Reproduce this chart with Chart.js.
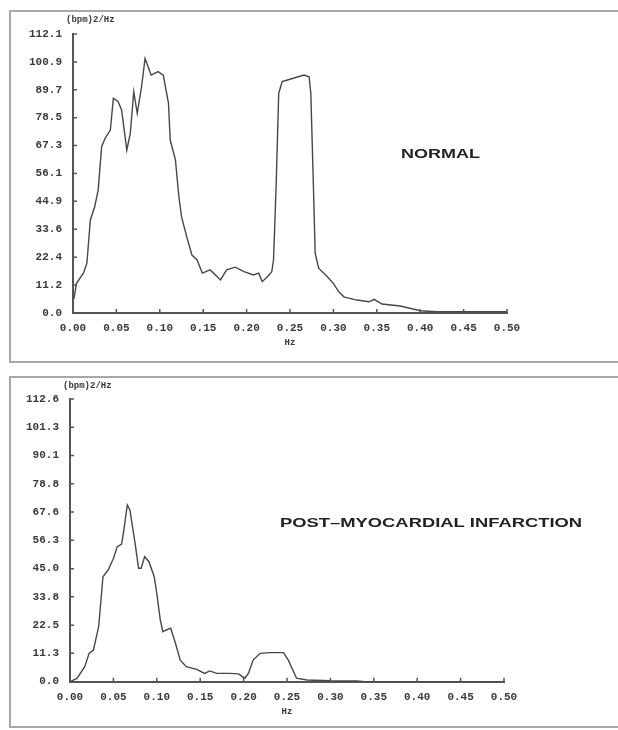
<!DOCTYPE html>
<html>
<head>
<meta charset="utf-8">
<script src="https://cdn.jsdelivr.net/npm/chart.js@4/dist/chart.umd.min.js"></script>
<style>
  html, body { margin: 0; padding: 0; background: #fff; }
  body { width: 618px; height: 730px; position: relative; overflow: hidden; }
  .frame { position: absolute; border: 2px solid #a8a8a8; box-sizing: border-box; }
  #f1 { left: 9px; top: 10px; width: 640px; height: 353px; }
  #f2 { left: 9px; top: 376px; width: 640px; height: 352px; }
  canvas { position: absolute; left: 0; }
  #c1wrap { position: absolute; left: 0; top: 0; width: 618px; height: 362px; }
  #c2wrap { position: absolute; left: 0; top: 370px; width: 618px; height: 360px; }
</style>
</head>
<body>
<div class="frame" id="f1"></div>
<div class="frame" id="f2"></div>
<div id="c1wrap"><canvas id="c1"></canvas></div>
<div id="c2wrap"><canvas id="c2"></canvas></div>
<script>
// ---- Data ----
const xTickLabels = ['0.00','0.05','0.10','0.15','0.20','0.25','0.30','0.35','0.40','0.45','0.50'];
const normalYTicks = ['0.0','11.2','22.4','33.6','44.9','56.1','67.3','78.5','89.7','100.9','112.1'];
const miYTicks = ['0.0','11.3','22.5','33.8','45.0','56.3','67.6','78.8','90.1','101.3','112.6'];

const normalFreq = [0.001,0.004,0.012,0.016,0.020,0.025,0.029,0.033,0.037,0.043,0.0465,0.052,0.056,0.062,0.066,0.070,0.074,0.079,0.083,0.090,0.098,0.104,0.110,0.112,0.118,0.122,0.125,0.131,0.137,0.143,0.149,0.158,0.170,0.177,0.187,0.197,0.208,0.214,0.218,0.224,0.229,0.231,0.234,0.237,0.241,0.250,0.266,0.272,0.274,0.277,0.279,0.283,0.293,0.300,0.306,0.312,0.327,0.341,0.347,0.356,0.377,0.393,0.400,0.420,0.450,0.500];
const normalPower = [5.6,11.9,16,20,37.4,42.7,49.4,66.8,70.2,73.5,86.3,84.9,81.6,65.5,72.2,88.9,80.2,90.9,102.3,95.6,97.0,95.6,84.3,69.5,61.5,46.7,38.7,30.7,23.3,21.3,16,17.3,13.3,17.3,18.4,16.6,15.3,16,12.6,14.6,16.6,21.3,50.7,88.3,93,93.9,95.6,94.9,88.3,50.7,24,18,14.6,11.9,8.6,6.5,5.2,4.5,5.5,3.6,2.8,1.5,0.9,0.5,0.5,0.5];

const miFreq = [0.000,0.008,0.017,0.022,0.027,0.033,0.038,0.044,0.050,0.0545,0.0595,0.062,0.066,0.069,0.075,0.079,0.082,0.086,0.091,0.097,0.100,0.104,0.107,0.111,0.116,0.121,0.127,0.134,0.146,0.155,0.161,0.169,0.184,0.194,0.2015,0.2055,0.211,0.219,0.230,0.246,0.2515,0.261,0.273,0.300,0.330,0.340,0.500];
const miPower = [0,1.3,6,11.3,12.6,21.9,41.8,44.5,49.1,53.8,54.8,60.4,70.4,68.4,55.1,45.2,45.2,49.8,47.8,41.8,35.2,24.6,19.9,20.6,21.3,15.9,8.6,6,4.9,3.3,4.3,3.3,3.3,3.1,1.4,3.3,8.6,11.3,11.6,11.6,8.6,1.4,0.7,0.4,0.3,0,0];

const yUnitLabel = '(bpm)2/Hz';
const xTitle = 'Hz';
const normalNote = 'NORMAL';
const miNote = 'POST\u2013MYOCARDIAL INFARCTION';

// ---- Styling / drawing helpers ----
const tickFont = { family: 'Liberation Mono', size: 11, weight: 'bold' };
const INK = '#3a3a3a';

const extrasPlugin = {
  id: 'extras',
  afterDraw(chart) {
    const o = chart.options.plugins.extras;
    const ctx = chart.ctx;
    const xs = chart.scales.x, ys = chart.scales.y;
    const area = chart.chartArea;
    ctx.save();
    // inward tick marks
    ctx.strokeStyle = '#555';
    ctx.lineWidth = 1.5;
    ctx.beginPath();
    xs.ticks.forEach(t => {
      const px = xs.getPixelForValue(t.value);
      ctx.moveTo(px, area.bottom); ctx.lineTo(px, area.bottom - 4);
    });
    ys.ticks.forEach(t => {
      const py = ys.getPixelForValue(t.value);
      ctx.moveTo(area.left, py); ctx.lineTo(area.left + 4, py);
    });
    ctx.stroke();
    // y unit label
    ctx.fillStyle = INK;
    ctx.font = 'bold 9px "Liberation Mono"';
    ctx.textBaseline = 'middle';
    ctx.textAlign = 'left';
    ctx.fillText(o.unit, area.left - 7, area.top - o.unitOffset);
    // x title
    ctx.textAlign = 'center';
    ctx.fillText(o.xTitle, xs.getPixelForValue(0.25), area.bottom + 30);
    // annotation
    ctx.font = 'bold 13px "Liberation Sans"';
    ctx.fillStyle = '#222';
    ctx.textAlign = 'left';
    const w = ctx.measureText(o.note).width;
    const nx = xs.getPixelForValue(o.noteX);
    const ny = ys.getPixelForValue(o.noteY);
    ctx.translate(nx, ny);
    ctx.scale(o.noteWidth / w, 1);
    ctx.fillText(o.note, 0, 0);
    ctx.restore();
  }
};

function makeChart(id, freq, power, yTicks, cfg) {
  const pts = freq.map((f, i) => ({ x: f, y: power[i] }));
  const yVals = yTicks.map(Number);
  const xVals = xTickLabels.map(Number);
  return new Chart(document.getElementById(id), {
    type: 'line',
    data: { datasets: [{ data: pts, borderColor: '#474747', borderWidth: 1.4, pointRadius: 0, tension: 0, fill: false }] },
    plugins: [extrasPlugin],
    options: {
      responsive: true,
      maintainAspectRatio: false,
      animation: false,
      events: [],
      layout: { padding: { left: 0, right: cfg.padRight, top: cfg.padTop, bottom: 0 } },
      plugins: {
        legend: { display: false },
        tooltip: { enabled: false },
        extras: cfg.extras
      },
      scales: {
        x: {
          type: 'linear', min: 0, max: 0.5,
          afterBuildTicks: s => { s.ticks = xVals.map(v => ({ value: v })); },
          afterFit: s => { s.height = cfg.xHeight; },
          ticks: { font: tickFont, color: INK, padding: 9, maxRotation: 0, autoSkip: false,
                   callback: (v) => { const i = xVals.findIndex(t => Math.abs(t - v) < 1e-9); return i >= 0 ? xTickLabels[i] : ''; } },
          grid: { display: true, drawOnChartArea: false, drawTicks: false },
          border: { display: true, color: '#555', width: 2 }
        },
        y: {
          type: 'linear', min: 0, max: yVals[yVals.length - 1],
          afterBuildTicks: s => { s.ticks = yVals.map(v => ({ value: v })); },
          afterFit: s => { s.width = cfg.yWidth; },
          ticks: { font: tickFont, color: INK, padding: 11, autoSkip: false,
                   callback: (v) => { const i = yVals.findIndex(t => Math.abs(t - v) < 1e-9); return i >= 0 ? yTicks[i] : ''; } },
          grid: { display: true, drawOnChartArea: false, drawTicks: false },
          border: { display: true, color: '#555', width: 2 }
        }
      }
    }
  });
}

makeChart('c1', normalFreq, normalPower, normalYTicks, {
  padRight: 111, padTop: 34, xHeight: 49, yWidth: 73,
  extras: { unit: yUnitLabel, unitOffset: 14, xTitle: xTitle, note: normalNote, noteX: 0.378, noteY: 63.9, noteWidth: 79 }
});
makeChart('c2', miFreq, miPower, miYTicks, {
  padRight: 114, padTop: 29, xHeight: 48.3, yWidth: 70,
  extras: { unit: yUnitLabel, unitOffset: 13, xTitle: xTitle, note: miNote, noteX: 0.242, noteY: 63.2, noteWidth: 302 }
});
</script>
</body>
</html>
